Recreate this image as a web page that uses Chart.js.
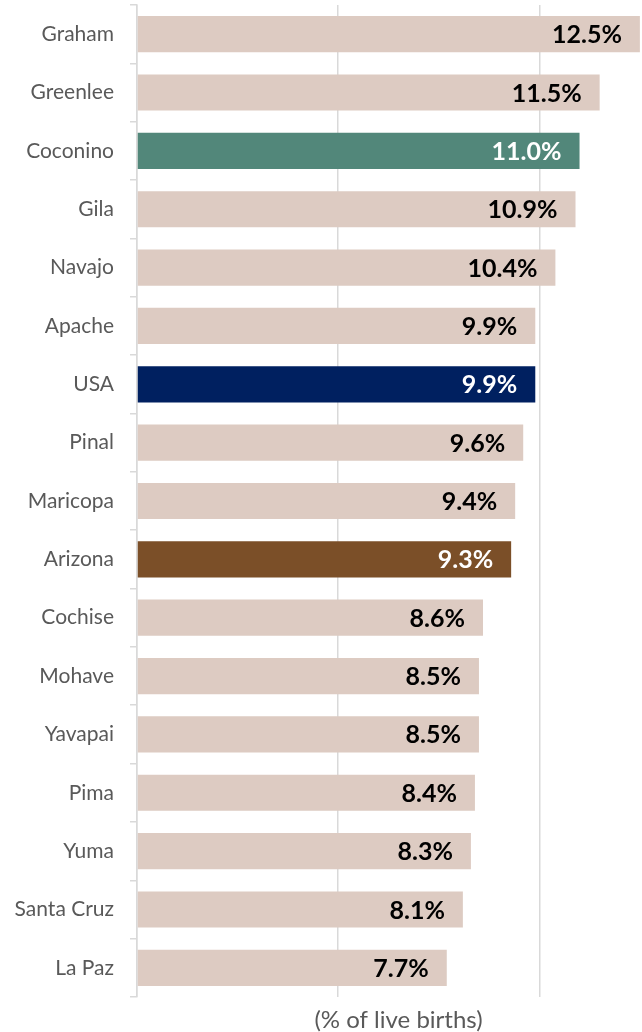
<!DOCTYPE html>
<html>
<head>
<meta charset="utf-8">
<script src="https://cdn.jsdelivr.net/npm/chart.js@4/dist/chart.umd.min.js"></script>
<style>
  html, body { margin: 0; padding: 0; background: #fff; overflow: hidden; }
  #wrap { width: 642px; height: 1032px; overflow: hidden; }
</style>
</head>
<body>
<div id="wrap"><canvas id="births" width="660" height="1032"></canvas></div>
<script>
const counties = ["Graham", "Greenlee", "Coconino", "Gila", "Navajo", "Apache", "USA", "Pinal", "Maricopa",
    "Arizona", "Cochise", "Mohave", "Yavapai", "Pima", "Yuma", "Santa Cruz", "La Paz"];
const rates = [12.5, 11.5, 11.0, 10.9, 10.4, 9.9, 9.9, 9.6, 9.4, 9.3, 8.6, 8.5, 8.5, 8.4, 8.3, 8.1, 7.7];
const gridTicks = [0, 5, 10];

// highlighted bars get their own colour and white labels
const special = { "Coconino": "#52877a", "USA": "#002060", "Arizona": "#7b4f28" };
const barColors = counties.map(c => special[c] || "#ddcbc2");
const labelColors = counties.map(c => special[c] ? "#ffffff" : "#000000");

const valueLabels = {
    id: "valueLabels",
    afterDatasetsDraw(chart) {
        const ctx = chart.ctx;
        const meta = chart.getDatasetMeta(0);
        ctx.save();
        ctx.font = "bold 25px Lato";
        ctx.textAlign = "right";
        ctx.textBaseline = "middle";
        meta.data.forEach((bar, i) => {
            ctx.fillStyle = labelColors[i];
            ctx.fillText(rates[i].toFixed(1) + "%", bar.x - 18, bar.y + 1);
        });
        ctx.restore();
    }
};

new Chart(document.getElementById("births"), {
    type: "bar",
    data: {
        labels: counties,
        datasets: [{
            data: rates,
            backgroundColor: barColors,
            barPercentage: 0.62,
            categoryPercentage: 1.0
        }]
    },
    options: {
        indexAxis: "y",
        responsive: false,
        animation: false,
        devicePixelRatio: 1,
        layout: { padding: { top: 5, left: 0, right: 0, bottom: 0 } },
        plugins: { legend: { display: false }, tooltip: { enabled: false } },
        scales: {
            x: {
                min: 0,
                max: 13,
                afterBuildTicks: scale => { scale.ticks = gridTicks.map(v => ({ value: v })); },
                ticks: { display: false },
                grid: { color: "#d9d9d9", lineWidth: 1.5, drawTicks: false },
                border: { display: false },
                title: {
                    display: true,
                    text: "(% of live births)",
                    color: "#595959",
                    font: { family: "Lato", size: 24, lineHeight: 1.0 },
                    padding: { top: 11, bottom: 0 }
                }
            },
            y: {
                afterFit: scale => {
                    scale.width = 137;
                    scale.paddingTop = 0;
                    scale.paddingBottom = 0;
                },
                ticks: { color: "#595959", font: { family: "Lato", size: 21 }, padding: 16 },
                grid: { drawOnChartArea: false, color: "#d9d9d9", lineWidth: 1.5, tickLength: 7 },
                border: { display: true, color: "#d9d9d9", width: 1.5 }
            }
        }
    },
    plugins: [valueLabels]
});
</script>
</body>
</html>
